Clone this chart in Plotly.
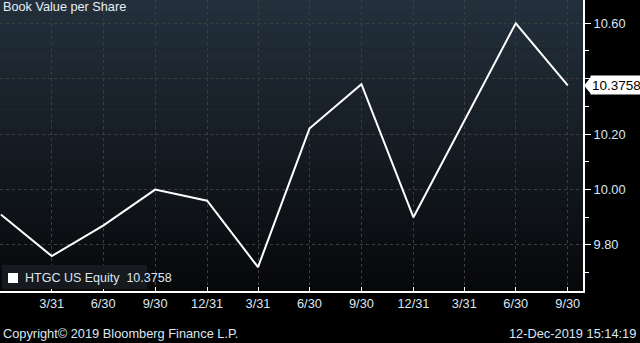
import plotly.graph_objects as go

# ---- data ----
dates = ["2016-12-31", "2017-03-31", "2017-06-30", "2017-09-30", "2017-12-31",
         "2018-03-31", "2018-06-30", "2018-09-30", "2018-12-31", "2019-03-31",
         "2019-06-30", "2019-09-30"]
book_value = [9.91, 9.76, 9.87, 10.00, 9.96, 9.72, 10.22, 10.38, 9.90, 10.25, 10.60, 10.3758]

tick_dates = ["2017-03-31", "2017-06-30", "2017-09-30", "2017-12-31",
              "2018-03-31", "2018-06-30", "2018-09-30", "2018-12-31",
              "2019-03-31", "2019-06-30", "2019-09-30"]
tick_labels = ["3/31", "6/30", "9/30", "12/31", "3/31", "6/30", "9/30", "12/31",
               "3/31", "6/30", "9/30"]
y_ticks = [9.80, 10.00, 10.20, 10.40, 10.60]
y_tick_labels = ["9.80", "10.00", "10.20", "", "10.60"]  # 10.40 hidden behind last-value tag

series_name = "HTGC US Equity"
title_text = "Book Value per Share"
last_val = book_value[-1]
last_label = f"{last_val:.4f}"

FONT = "Liberation Sans"
TXT = "#dce6f2"

fig = go.Figure()
fig.add_trace(go.Scatter(x=dates, y=book_value, mode="lines",
                         line=dict(color="white", width=2), showlegend=False,
                         hoverinfo="skip"))

# gradient background bands
shapes = []
top = (0x23, 0x30, 0x3c)
bot = (0x07, 0x08, 0x0a)
N = 60
for i in range(N):
    t = i / (N - 1)
    c = tuple(round(top[k] + (bot[k] - top[k]) * t) for k in range(3))
    y1 = 1 - i / N
    y0 = 1 - (i + 1) / N
    shapes.append(dict(type="rect", xref="paper", yref="paper", x0=0, x1=1,
                       y0=y0 - 0.001, y1=y1 + 0.001, line=dict(width=0),
                       fillcolor="rgb(%d,%d,%d)" % c, layer="below"))

# legend box
shapes.append(dict(type="rect", xref="paper", yref="paper",
                   x0=2 / 583, x1=147 / 583, y0=(291 - 289) / 291, y1=(291 - 265) / 291,
                   line=dict(width=0), fillcolor="#16191d", layer="above"))
shapes.append(dict(type="rect", xref="paper", yref="paper",
                   x0=8 / 583, x1=18 / 583, y0=(291 - 283) / 291, y1=(291 - 273) / 291,
                   line=dict(width=0), fillcolor="white", layer="above"))
# last-value arrow
shapes.append(dict(type="path", xref="paper", yref="y", xsizemode="pixel",
                   ysizemode="pixel", xanchor=1, yanchor=last_val,
                   path="M 1 0 L 8 -8.5 L 8 8.5 Z", fillcolor="white",
                   line=dict(width=0), layer="above"))

annotations = [
    dict(text=title_text, xref="paper", yref="paper", x=0, y=1, xshift=1, yshift=-7,
         xanchor="left", yanchor="middle", showarrow=False,
         font=dict(family=FONT, size=12.7, color="#e8eef5")),
    dict(text=f"{series_name}  {last_label}", xref="paper", yref="paper",
         x=23 / 583, y=(291 - 277.5) / 291, xanchor="left", yanchor="middle",
         showarrow=False, font=dict(family=FONT, size=12.5, color=TXT)),
    dict(text=last_label, xref="paper", yref="y", x=1, y=last_val, xshift=7,
         xanchor="left", yanchor="middle", showarrow=False, bgcolor="white",
         width=48, height=16, align="left", borderpad=1,
         font=dict(family=FONT, size=13.5, color="black")),
    dict(text="Copyright\u00a9 2019 Bloomberg Finance L.P.", xref="paper", yref="paper",
         x=0, y=-(333 - 291) / 291, xshift=1, xanchor="left", yanchor="middle",
         showarrow=False, font=dict(family=FONT, size=12.8, color=TXT)),
    dict(text="12-Dec-2019 15:14:19", xref="paper", yref="paper",
         x=1, y=-(333 - 291) / 291, xshift=55, xanchor="right", yanchor="middle",
         showarrow=False, font=dict(family=FONT, size=12.8, color=TXT)),
]

fig.update_layout(
    width=640, height=343,
    margin=dict(l=0, r=57, t=0, b=52),
    paper_bgcolor="black", plot_bgcolor="black",
    shapes=shapes, annotations=annotations, showlegend=False,
    xaxis=dict(type="date", range=["2016-12-29 12:00", "2019-10-27"],
               tickvals=tick_dates, ticktext=tick_labels,
               showgrid=True, gridcolor="#3d3d3d", griddash="3px,3px", gridwidth=1,
               showline=True, linecolor="white", linewidth=2,
               ticks="inside", ticklen=4, tickcolor="white",
               tickfont=dict(family=FONT, size=12.8, color=TXT), zeroline=False),
    yaxis=dict(side="right", range=[9.634, 10.684],
               tickvals=y_ticks, ticktext=y_tick_labels,
               showgrid=True, gridcolor="#3d3d3d", griddash="3px,3px", gridwidth=1,
               showline=True, linecolor="white", linewidth=2,
               ticks="outside", ticklen=6, tickcolor="white",
               minor=dict(dtick=0.1, tick0=9.7, ticks="outside", ticklen=4,
                          tickcolor="white", showgrid=False),
               tickfont=dict(family=FONT, size=12.8, color=TXT), zeroline=False),
)

fig.write_html("out.html")
